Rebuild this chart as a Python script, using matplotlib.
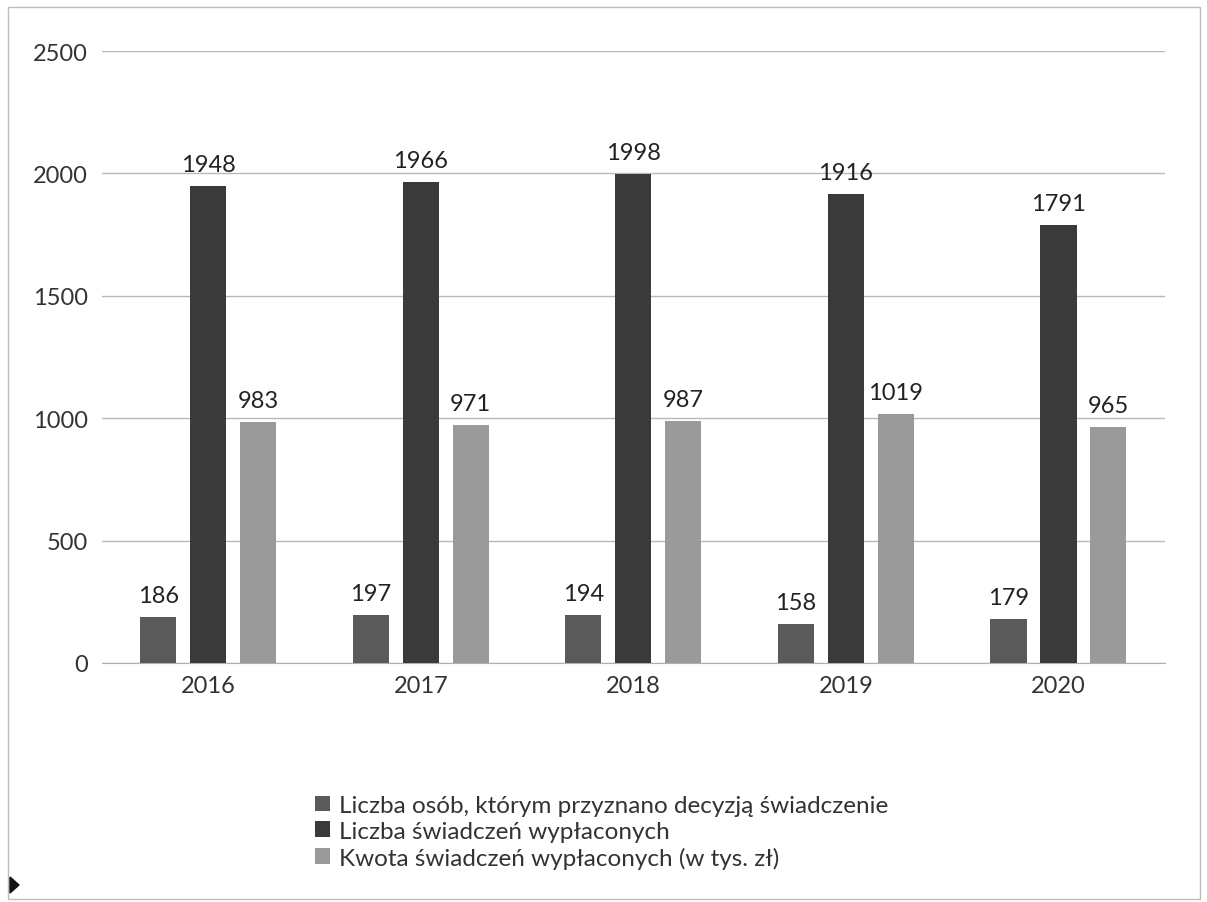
import matplotlib
matplotlib.use("Agg")
import matplotlib.pyplot as plt
import numpy as np
from matplotlib.patches import Rectangle, Polygon

years = ["2016", "2017", "2018", "2019", "2020"]
osoby = [186, 197, 194, 158, 179]
swiadczenia = [1948, 1966, 1998, 1916, 1791]
kwota = [983, 971, 987, 1019, 965]
labels = ["Liczba osób, którym przyznano decyzją świadczenie",
          "Liczba świadczeń wypłaconych",
          "Kwota świadczeń wypłaconych (w tys. zł)"]
colors = ["#5a5a5a", "#3a3a3a", "#9a9a9a"]

plt.rcParams['font.family'] = ['Lato', 'DejaVu Sans']

fig = plt.figure(figsize=(12.07, 9.03), dpi=100)
ax = fig.add_axes([0.0845, 0.2647, 0.8805, 0.6777])

x = np.arange(len(years))
step = 0.235
w = 0.17
series = [osoby, swiadczenia, kwota]
for i, (vals, c, lab) in enumerate(zip(series, colors, labels)):
    bars = ax.bar(x + (i - 1) * step, vals, width=w, color=c, label=lab, zorder=3)
    for b, v in zip(bars, vals):
        ax.text(b.get_x() + b.get_width() / 2, v + 45, str(v), ha="center", va="bottom",
                fontsize=17, color="#222222")

ax.set_xlim(-0.5, len(years) - 0.5)
ax.set_ylim(0, 2500)
ax.set_yticks([0, 500, 1000, 1500, 2000, 2500])
ax.set_xticks(x)
ax.set_xticklabels(years)
ax.tick_params(axis="both", length=0, labelsize=17, colors="#333333")
ax.tick_params(axis="y", pad=10)
ax.tick_params(axis="x", pad=9)
ax.grid(axis="y", color="#b8b8b8", linewidth=1, zorder=0)
for s in ["left", "right", "top"]:
    ax.spines[s].set_visible(False)
ax.spines["bottom"].set_color("#b0b0b0")

handles, labs = ax.get_legend_handles_labels()
fig.legend(handles, labs, loc="lower left", bbox_to_anchor=(0.247, 0.018), frameon=False,
           fontsize=17.5, handlelength=0.6, handleheight=0.6, handletextpad=0.4,
           labelspacing=0.2, labelcolor="#333333", borderpad=0.2)

# outer border
fig.patches.append(Rectangle((8 / 1207, 3 / 903), 1192 / 1207, 892 / 903, transform=fig.transFigure,
                             fill=False, edgecolor="#bdbdbd", linewidth=1))
fig.patches.append(Polygon([[10 / 1207, 1 - 878 / 903], [10 / 1207, 1 - 894 / 903], [19 / 1207, 1 - 886 / 903]],
                           closed=True, transform=fig.transFigure, color="#111111"))

fig.savefig("out.png", dpi=100)
